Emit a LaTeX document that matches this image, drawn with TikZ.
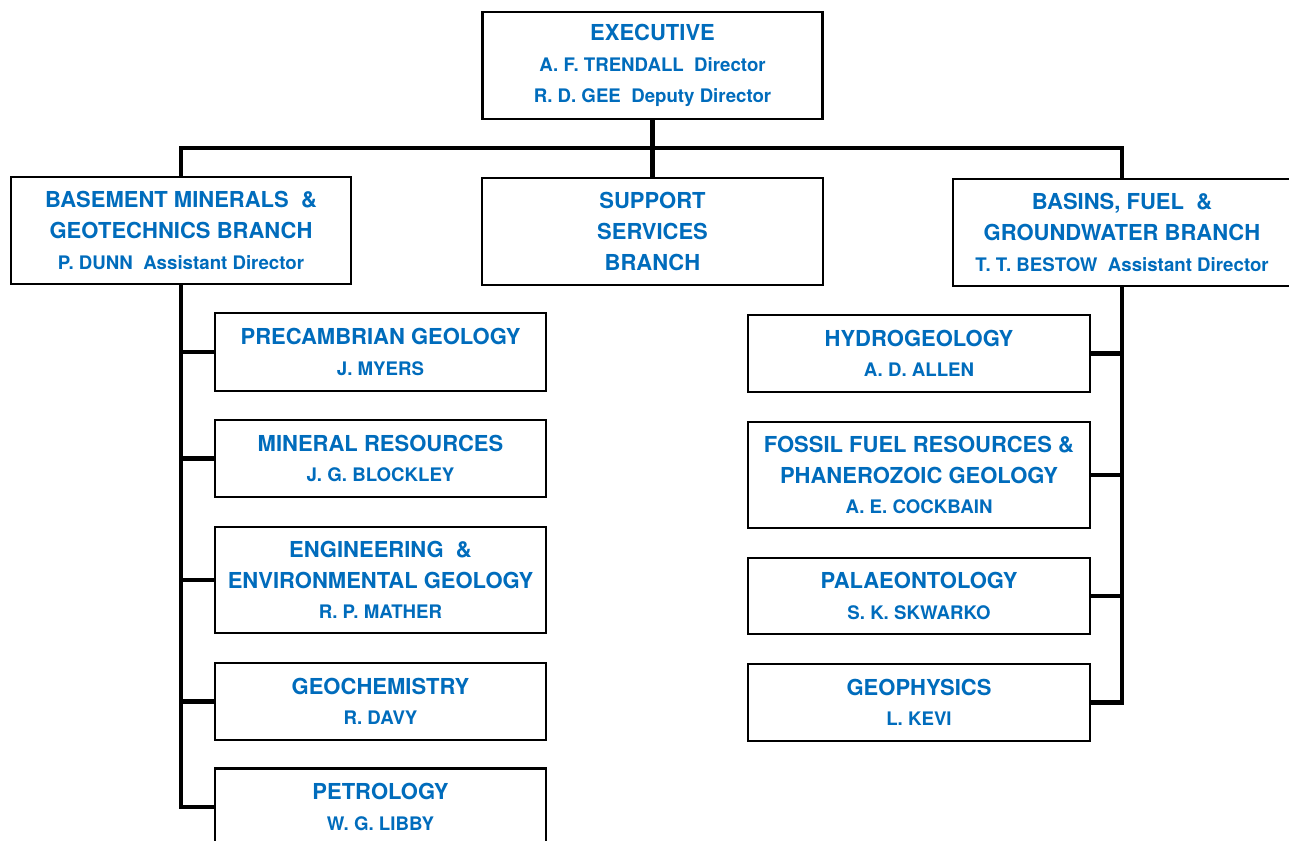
\documentclass[tikz,border=0pt]{standalone}
\usepackage{fontspec}
\setmainfont{TeX Gyre Heros}
\definecolor{unitblue}{RGB}{0,108,188}
\newcommand{\who}[1]{{\fontsize{14}{23}\selectfont #1}}
\tikzset{every picture/.style={line width=0.75pt}}

\begin{document}
\begin{tikzpicture}[x=0.75pt,y=0.75pt,yscale=-1,xscale=1,
	unit/.style={draw, line width=2.2pt, fill=white, inner sep=0pt, outer sep=0pt, align=center, text=unitblue, font=\fontsize{16.5}{23}\selectfont\bfseries},
	branch/.style={unit, minimum width=255pt, minimum height=80.25pt},
	leftsec/.style={unit, minimum width=248.25pt},
	rightsec/.style={unit, minimum width=256.5pt},
	link/.style={line width=3.6pt, line join=miter}]
	\useasboundingbox (0,0) rectangle (1289,841);

	%Shape: Rectangle [executive]
	\node[branch] (exec) at (652.5,65.5) {EXECUTIVE\\ \who{A. F. TRENDALL~ Director}\\ \who{R. D. GEE~ Deputy Director}};
	%Shape: Rectangle [branches]
	\node[branch] (bm) at (181,230.5) {BASEMENT MINERALS~ \&\\ GEOTECHNICS BRANCH\\ \who{P. DUNN~ Assistant Director}};
	\node[branch, minimum width=255.75pt] (sup) at (652.5,231.5) {SUPPORT\\ SERVICES\\ BRANCH};
	\node[branch, minimum width=253.5pt] (bf) at (1122,232.5) {BASINS, FUEL~ \&\\ GROUNDWATER BRANCH\\ \who{T. T. BESTOW~ Assistant Director}};

	%Shape: Rectangle [left sections]
	\node[leftsec, minimum height=58.5pt] (pre) at (380.5,352) {PRECAMBRIAN GEOLOGY\\ \who{J. MYERS}};
	\node[leftsec, minimum height=57.75pt] (min) at (380.5,458.5) {MINERAL RESOURCES\\ \who{J. G. BLOCKLEY}};
	\node[leftsec, minimum height=79.5pt] (eng) at (380.5,580) {ENGINEERING~ \&\\ ENVIRONMENTAL GEOLOGY\\ \who{R. P. MATHER}};
	\node[leftsec, minimum height=57.75pt] (gch) at (380.5,701.5) {GEOCHEMISTRY\\ \who{R. DAVY}};
	\node[leftsec, minimum height=57.75pt] (pet) at (380.5,807) {PETROLOGY\\ \who{W. G. LIBBY}};

	%Shape: Rectangle [right sections]
	\node[rightsec, minimum height=57.75pt] (hyd) at (919,353.5) {HYDROGEOLOGY\\ \who{A. D. ALLEN}};
	\node[rightsec, minimum height=79.5pt] (fos) at (919,475) {FOSSIL FUEL RESOURCES \&\\ PHANEROZOIC GEOLOGY\\ \who{A. E. COCKBAIN}};
	\node[rightsec, minimum height=57pt] (pal) at (919,596) {PALAEONTOLOGY\\ \who{S. K. SKWARKO}};
	\node[rightsec, minimum height=57.75pt] (gph) at (919,702.5) {GEOPHYSICS\\ \who{L. KEVI}};

	%Straight Lines [links]
	\coordinate (bus) at (652.5,148);
	\draw[link] (exec.south) -- (sup.north);
	\draw[link] (bm.north) |- (bus) -| (bf.north);
	\draw[link] (bm.south) |- (pet.west);
	\foreach \s in {pre,min,eng,gch}
		\draw[link] (bm.south |- \s.west) -- (\s.west);
	\draw[link] (bf.south) |- (gph.east);
	\foreach \s in {hyd,fos,pal}
		\draw[link] (bf.south |- \s.east) -- (\s.east);

\end{tikzpicture}
\end{document}
